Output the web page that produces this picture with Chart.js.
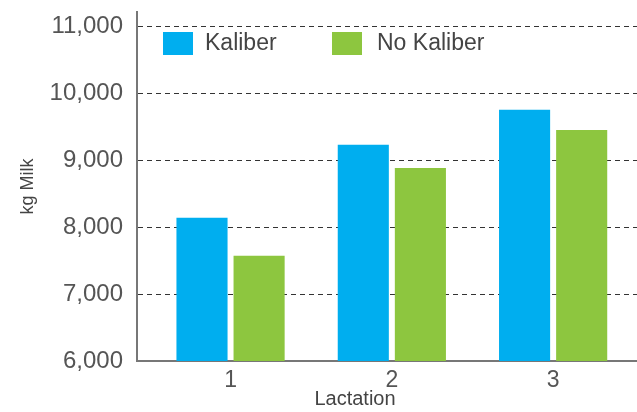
<!DOCTYPE html>
<html>
<head>
<meta charset="utf-8">
<script src="https://cdn.jsdelivr.net/npm/chart.js@4.4.1/dist/chart.umd.min.js"></script>
<style>
  html, body { margin: 0; padding: 0; background: #fff; }
  #wrap { width: 637px; height: 412px; }
</style>
</head>
<body>
<div id="wrap"><canvas id="milk-chart"></canvas></div>
<script>
// values
const lactations = [1, 2, 3];
const kaliber = [8140, 9230, 9750];
const noKaliber = [7570, 8880, 9450];
const yTicks = [6000, 7000, 8000, 9000, 10000, 11000];
const seriesNames = ['Kaliber', 'No Kaliber'];
const seriesColors = ['#00aeef', '#8dc63f'];

const fontFamily = '"Liberation Sans", Arial, sans-serif';

function toPoints(values) {
  return lactations.map((x, i) => ({ x: x, y: values[i] }));
}

// legend sits inside the plot, top left, plus the x title off centre
const insideLegend = {
  id: 'insideLegend',
  afterDraw(chart) {
    const ctx = chart.ctx;
    const area = chart.chartArea;
    const items = [
      { box: area.left + 26, text: area.left + 68 },
      { box: area.left + 195, text: area.left + 240 }
    ];
    ctx.save();
    ctx.font = '23px ' + fontFamily;
    ctx.textBaseline = 'middle';
    ctx.textAlign = 'left';
    items.forEach((it, i) => {
      ctx.fillStyle = seriesColors[i];
      ctx.fillRect(it.box, area.top + 20, 30, 23);
      ctx.fillStyle = '#444';
      ctx.fillText(seriesNames[i], it.text, area.top + 32);
    });
    ctx.font = '20px ' + fontFamily;
    ctx.textAlign = 'center';
    ctx.fillStyle = '#444';
    ctx.fillText('Lactation', 355, 399);
    ctx.restore();
  }
};

const ctx = document.getElementById('milk-chart').getContext('2d');

new Chart(ctx, {
  type: 'bar',
  data: {
    datasets: [
      {
        label: seriesNames[0],
        data: toPoints(kaliber),
        backgroundColor: seriesColors[0],
        categoryPercentage: 0.708,
        barPercentage: 0.895
      },
      {
        label: seriesNames[1],
        data: toPoints(noKaliber),
        backgroundColor: seriesColors[1],
        categoryPercentage: 0.708,
        barPercentage: 0.895
      }
    ]
  },
  options: {
    responsive: true,
    maintainAspectRatio: false,
    animation: false,
    layout: { padding: 0 },
    plugins: {
      legend: { display: false },
      tooltip: { enabled: false }
    },
    scales: {
      x: {
        type: 'linear',
        offset: false,
        min: 0.42,
        max: 3.52,
        grid: { display: false, drawTicks: false },
        border: { color: '#777', width: 2 },
        ticks: {
          color: '#555',
          font: { family: fontFamily, size: 23 },
          padding: 6
        },
        afterBuildTicks(scale) {
          scale.ticks = lactations.map(v => ({ value: v }));
        },
        afterFit(scale) {
          scale.height = 51;
          scale.paddingLeft = 0;
          scale.paddingRight = 0;
        }
      },
      y: {
        min: 6000,
        max: 11210,
        grid: { color: '#333', lineWidth: 1, drawTicks: false },
        border: { color: '#777', width: 2, dash: [5, 4] },
        ticks: {
          color: '#555',
          font: { family: fontFamily, size: 24 },
          padding: 14,
          callback: v => v.toLocaleString('en-US')
        },
        afterBuildTicks(scale) {
          scale.ticks = yTicks.map(v => ({ value: v }));
        },
        afterFit(scale) {
          scale.width = 137;
          scale.paddingTop = 12;
          scale.paddingBottom = 0;
        },
        title: {
          display: true,
          text: 'kg Milk',
          color: '#444',
          font: { family: fontFamily, size: 18 },
          padding: { top: 17, bottom: 0 }
        }
      }
    }
  },
  plugins: [insideLegend]
});
</script>
</body>
</html>
